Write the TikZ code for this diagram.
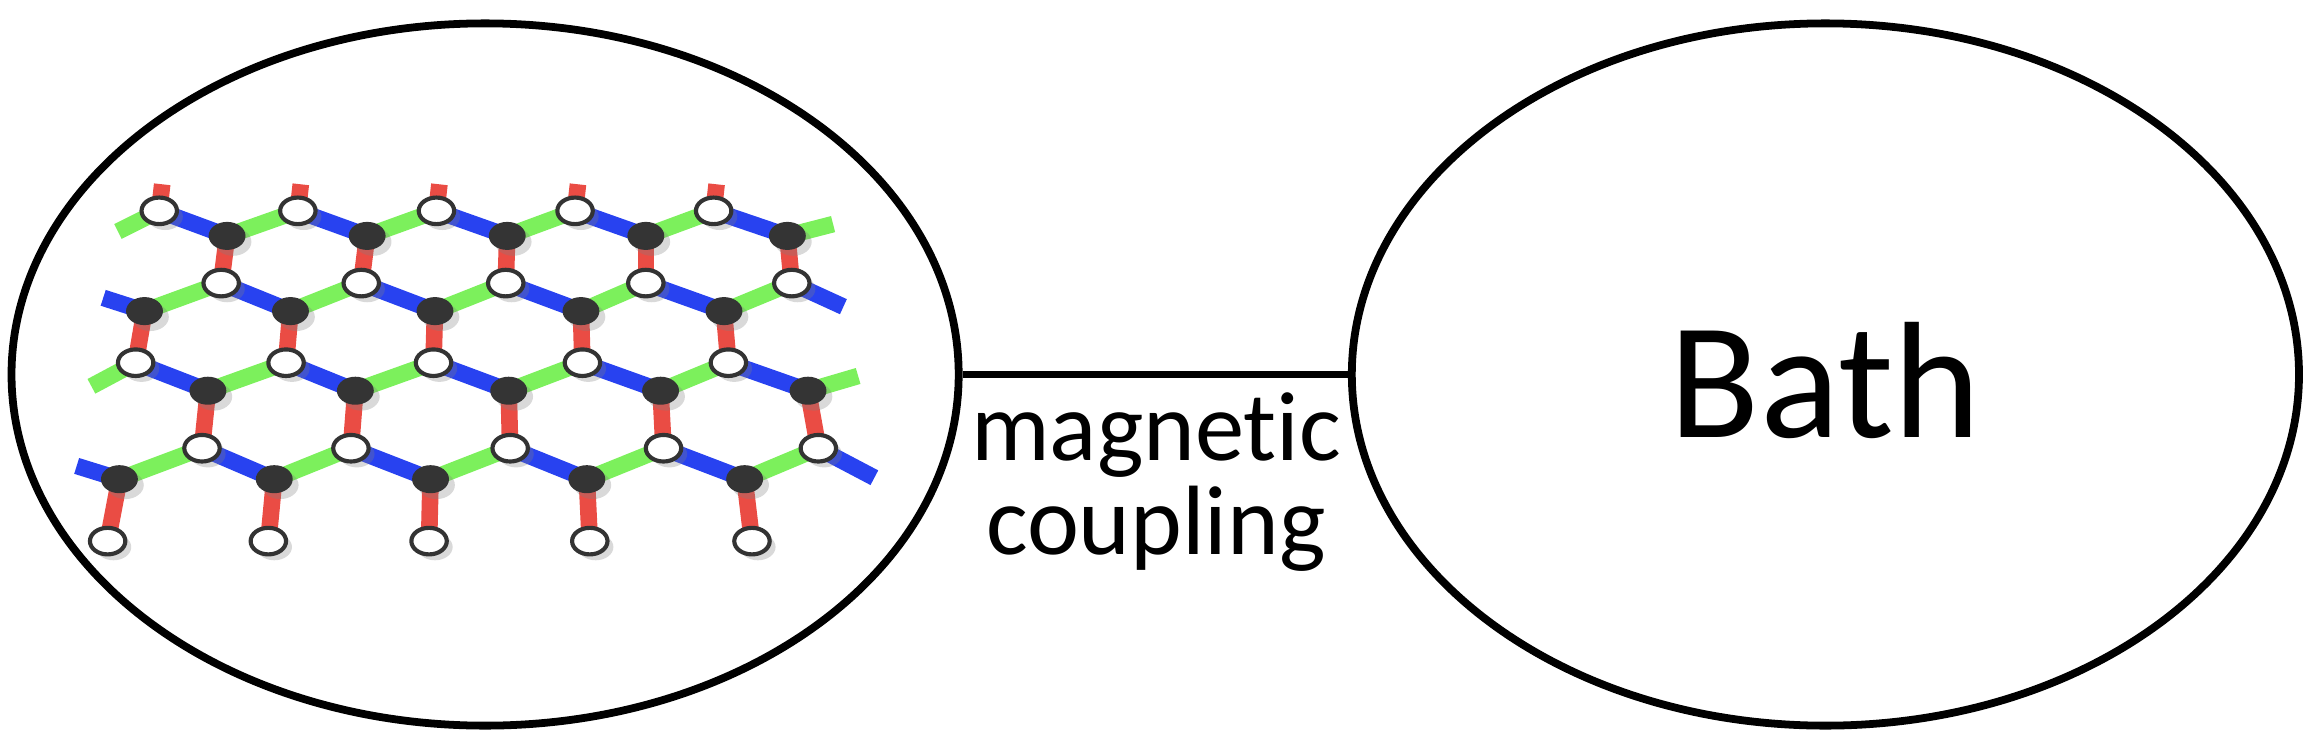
\documentclass[tikz,border=0pt]{standalone}
\usepackage{fontspec}
\setmainfont[Ligatures=NoCommon]{Carlito}
\usetikzlibrary{shadows,shapes.geometric}
\definecolor{bondred}{RGB}{234,76,68}
\definecolor{bondgreen}{RGB}{124,240,92}
\definecolor{bondblue}{RGB}{40,66,240}
\definecolor{sitedark}{RGB}{52,52,52}
\begin{document}
\begin{tikzpicture}[x=0.01cm,y=-0.01cm,
    blob/.style={ellipse,draw,line width=1.5pt,minimum width=6.42cm,minimum height=4.76cm},
    wsite/.style={ellipse,draw=black!80,fill=white,line width=0.8pt,inner sep=0pt,
        minimum width=0.24cm,minimum height=0.18cm,drop shadow={opacity=0.3,shadow xshift=0.4mm,shadow yshift=-0.4mm}},
    bsite/.style={ellipse,fill=sitedark,inner sep=0pt,
        minimum width=0.25cm,minimum height=0.19cm,drop shadow={opacity=0.3,shadow xshift=0.4mm,shadow yshift=-0.4mm}},
    rbond/.style={bondred,line width=3.2pt},
    gbond/.style={bondgreen,line width=3.2pt},
    ubond/.style={bondblue,line width=3.2pt}]
    \useasboundingbox (0,0) rectangle (1568,510);
    % two subsystems and the coupling
    \node[blob](sys) at (329,254) {};
    \node[blob](bath) at (1238,254) {};
    \node[font=\fontsize{32}{32}\selectfont](bathlbl) at (1238,258) {Bath};
    \draw[line width=1.5pt] (sys.east) -- (bath.west);
    \node[font=\fontsize{19}{18}\selectfont,align=center](coup) at (784,327) {magnetic\\coupling};
    % lattice sites
    \foreach \x [count=\i from 0] in {108,202,296,390,484} \coordinate (a\i) at (\x,143);
    \foreach \x [count=\i from 0] in {154,249,344,438,534} \coordinate (b\i) at (\x,160);
    \foreach \x [count=\i from 0] in {150,245,343,438,537} \coordinate (c\i) at (\x,192);
    \foreach \x [count=\i from 0] in {98,197,295,394,491} \coordinate (d\i) at (\x,211);
    \foreach \x [count=\i from 0] in {92,194,294,395,494} \coordinate (e\i) at (\x,246);
    \foreach \x [count=\i from 0] in {141,241,345,448,548} \coordinate (f\i) at (\x,265);
    \foreach \x [count=\i from 0] in {137,238,346,450,555} \coordinate (g\i) at (\x,304);
    \foreach \x [count=\i from 0] in {81,186,292,398,505} \coordinate (h\i) at (\x,325);
    \foreach \x [count=\i from 0] in {73,182,291,400,510} \coordinate (k\i) at (\x,367);
    % loose ends
    \coordinate (la) at (80,157);  \coordinate (rb) at (565,152);
    \coordinate (rc) at (572,208); \coordinate (ld) at (70,202);
    \coordinate (le) at (62,262);  \coordinate (rf) at (582,255);
    \coordinate (rg) at (593,324); \coordinate (lh) at (52,316);
    % bonds
    \foreach \i in {0,...,4} {
        \draw[rbond] (a\i) -- ++(2,-18);
        \draw[rbond] (b\i) -- (c\i);
        \draw[rbond] (d\i) -- (e\i);
        \draw[rbond] (f\i) -- (g\i);
        \draw[rbond] (h\i) -- (k\i);
        \draw[ubond] (a\i) -- (b\i);
        \draw[gbond] (c\i) -- (d\i);
        \draw[ubond] (e\i) -- (f\i);
        \draw[gbond] (g\i) -- (h\i);
    }
    \foreach \i/\j in {0/1,1/2,2/3,3/4} {
        \draw[gbond] (b\i) -- (a\j);
        \draw[ubond] (c\i) -- (d\j);
        \draw[gbond] (f\i) -- (e\j);
        \draw[ubond] (g\i) -- (h\j);
    }
    \draw[gbond] (la) -- (a0);  \draw[gbond] (b4) -- (rb);
    \draw[ubond] (c4) -- (rc);  \draw[ubond] (ld) -- (d0);
    \draw[gbond] (le) -- (e0);  \draw[gbond] (f4) -- (rf);
    \draw[ubond] (g4) -- (rg);  \draw[ubond] (lh) -- (h0);
    \foreach \r in {a,c,e,g,k} \foreach \i in {0,...,4} \node[wsite] at (\r\i) {};
    \foreach \r in {b,d,f,h} \foreach \i in {0,...,4} \node[bsite] at (\r\i) {};
\end{tikzpicture}
\end{document}
